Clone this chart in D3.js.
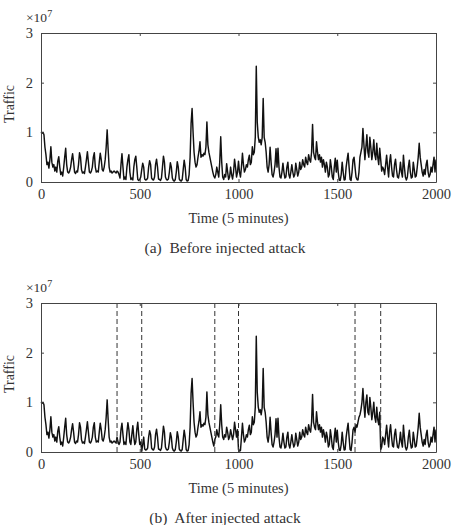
<!DOCTYPE html>
<html>
<head>
<meta charset="utf-8">
<script src="https://cdn.jsdelivr.net/npm/d3@7"></script>
<style>
  body { margin: 0; background: #fff; }
  text { font-family: "Liberation Serif", "Times New Roman", serif; fill: #333; }
</style>
</head>
<body>
<svg width="455" height="525"></svg>
<script>
// traffic in units of 1e7, one value every 5 time steps (t = 0 ... 2000)
const timeStep = 5;
const trafficBefore = [
  1.0,0.98,1.0,0.95,0.7,0.55,0.35,0.4,0.28,0.45,0.71,0.4,0.3,0.35,0.22,0.3,0.2,0.42,0.51,0.3,
  0.15,0.2,0.12,0.3,0.5,0.68,0.35,0.2,0.18,0.22,0.3,0.45,0.57,0.4,0.2,0.17,0.22,0.2,0.35,0.59,
  0.5,0.25,0.18,0.2,0.17,0.3,0.45,0.61,0.4,0.2,0.18,0.22,0.3,0.5,0.59,0.3,0.2,0.22,0.2,0.4,
  0.58,0.45,0.25,0.22,0.3,0.45,0.7,1.05,0.65,0.3,0.2,0.22,0.18,0.2,0.22,0.2,0.18,0.22,0.2,0.15,
  0.08,0.35,0.57,0.3,0.05,0.1,0.05,0.3,0.45,0.55,0.2,0.05,0.08,0.04,0.3,0.45,0.52,0.3,0.05,0.03,
  0.05,0.1,0.25,0.38,0.3,0.06,0.04,0.05,0.08,0.3,0.43,0.35,0.08,0.05,0.04,0.1,0.35,0.46,0.3,0.06,
  0.05,0.03,0.08,0.3,0.52,0.4,0.1,0.05,0.04,0.06,0.2,0.39,0.3,0.08,0.03,0.02,0.05,0.2,0.41,0.3,
  0.06,0.03,0.02,0.05,0.25,0.44,0.3,0.05,0.02,0.03,0.15,0.5,1.18,1.48,1.0,0.6,0.4,0.3,0.35,0.5,
  0.62,0.81,0.5,0.55,0.52,0.58,0.55,0.7,1.21,0.75,0.6,0.5,0.4,0.3,0.2,0.12,0.08,0.15,0.3,0.2,
  0.1,0.4,0.91,0.4,0.1,0.05,0.15,0.1,0.37,0.2,0.05,0.1,0.3,0.15,0.06,0.2,0.46,0.3,0.1,0.2,
  0.42,0.2,0.1,0.3,0.58,0.35,0.2,0.25,0.35,0.3,0.45,0.54,0.35,0.4,0.71,0.55,0.6,0.9,2.33,1.2,
  0.91,0.8,0.85,0.75,0.9,1.68,0.9,0.8,0.6,0.3,0.2,0.35,0.7,0.4,0.15,0.1,0.2,0.35,0.67,0.3,
  0.68,0.3,0.1,0.08,0.2,0.38,0.2,0.08,0.1,0.3,0.4,0.15,0.08,0.2,0.35,0.2,0.1,0.15,0.38,0.25,
  0.12,0.2,0.4,0.25,0.3,0.45,0.35,0.3,0.5,0.4,0.35,0.55,0.45,0.4,0.6,1.16,0.6,0.5,0.45,0.81,
  0.6,0.45,0.55,0.4,0.5,0.3,0.45,0.35,0.2,0.4,0.3,0.1,0.15,0.45,0.3,0.1,0.05,0.3,0.48,0.2,
  0.44,0.2,0.04,0.03,0.15,0.4,0.2,0.04,0.05,0.3,0.45,0.58,0.3,0.05,0.03,0.2,0.45,0.5,0.3,0.1,
  0.05,0.04,0.2,0.5,0.6,0.7,1.08,0.75,0.45,0.7,0.95,0.6,0.5,0.9,0.7,0.45,0.6,0.85,0.55,0.45,
  0.78,0.5,0.35,0.68,0.45,0.22,0.3,0.25,0.15,0.35,0.54,0.3,0.1,0.4,0.55,0.3,0.12,0.1,0.35,0.46,
  0.25,0.1,0.08,0.2,0.4,0.2,0.1,0.54,0.3,0.1,0.04,0.1,0.3,0.44,0.2,0.08,0.1,0.4,0.25,0.1,
  0.12,0.3,0.5,0.78,0.5,0.35,0.2,0.12,0.25,0.15,0.35,0.44,0.2,0.1,0.15,0.3,0.2,0.35,0.5,0.2,0.45
];

// injected segments for panel (b): start time and replaced values
const attackStarts = [385, 880, 1590];
const attackValues = [
  [0.3,0.2,0.15,0.2,0.45,0.58,0.35,0.15,0.2,0.15,0.4,0.59,0.45,0.2,0.15,0.35,0.53,0.3,0.15,0.2,0.45,0.6,0.35,0.15,0.2,0.02,0.15],
  [0.25,0.3,0.45,0.35,0.3,0.55,0.95,0.55,0.3,0.25,0.35,0.3,0.5,0.4,0.25,0.3,0.45,0.35,0.25,0.35,0.6,0.45,0.3,0.45,0.05,0.02,0.03],
  [0.4,0.55,0.5,0.6,0.7,0.75,0.85,1.0,1.28,0.95,0.7,1.0,1.15,0.8,0.75,1.1,0.9,0.65,0.8,1.0,0.7,0.6,0.9,0.65,0.55,0.8,0.05,0.1]
];
const attackBounds = [385, 510, 880, 1000, 1590, 1720];

const xTicks = [0, 500, 1000, 1500, 2000];
const yTicks = [0, 1, 2, 3];

const trafficAfter = trafficBefore.slice();
attackStarts.forEach((s, k) => {
  attackValues[k].forEach((v, j) => { trafficAfter[s / timeStep + j] = v; });
});

const svg = d3.select("svg");
const plot = { left: 41, right: 436, top: 33, bottom: 182 };

const x = d3.scaleLinear().domain([0, 2000]).range([plot.left, plot.right]);
const y = d3.scaleLinear().domain([0, 3]).range([plot.bottom, plot.top]);

const line = d3.line()
  .x((d, i) => x(i * timeStep))
  .y(d => y(d));

function drawPanel(offsetY, values, bounds, caption) {
  const g = svg.append("g").attr("transform", `translate(0,${offsetY})`);

  // series
  g.append("path")
    .datum(values)
    .attr("fill", "none")
    .attr("stroke", "#111")
    .attr("stroke-width", 1.45)
    .attr("stroke-linejoin", "round")
    .attr("d", line);

  // attack interval markers
  g.selectAll("line.mark")
    .data(bounds)
    .enter().append("line")
    .attr("class", "mark")
    .attr("x1", d => x(d)).attr("x2", d => x(d))
    .attr("y1", plot.top).attr("y2", plot.bottom)
    .attr("stroke", "#333")
    .attr("stroke-width", 1)
    .attr("stroke-dasharray", "5,3");

  // box axes, ticks pointing inward
  const styleAxis = sel => {
    sel.attr("font-family", null).attr("font-size", null);
    sel.selectAll("path, line").attr("stroke", "#444");
    sel.selectAll("text")
      .style("font-family", '"Liberation Serif", serif')
      .style("font-size", "14.5px")
      .attr("fill", "#333");
  };
  const fmt = d3.format("d");
  g.append("g").attr("transform", `translate(0,${plot.bottom})`)
    .call(d3.axisBottom(x).tickValues(xTicks).tickFormat(fmt).tickSizeInner(-3).tickSizeOuter(0).tickPadding(7))
    .call(styleAxis);
  g.append("g").attr("transform", `translate(0,${plot.top})`)
    .call(d3.axisTop(x).tickValues(xTicks).tickSizeInner(-3).tickSizeOuter(0).tickFormat(""))
    .call(styleAxis);
  g.append("g").attr("transform", `translate(${plot.left},0)`)
    .call(d3.axisLeft(y).tickValues(yTicks).tickFormat(fmt).tickSizeInner(-3).tickSizeOuter(0).tickPadding(8))
    .call(styleAxis);
  g.append("g").attr("transform", `translate(${plot.right},0)`)
    .call(d3.axisRight(y).tickValues(yTicks).tickSizeInner(-3).tickSizeOuter(0).tickFormat(""))
    .call(styleAxis);

  // exponent
  const ex = g.append("text").attr("x", 26).attr("y", 21.5).style("font-size", "13.5px");
  ex.append("tspan").text("×10");
  ex.append("tspan").attr("dy", -5).style("font-size", "10px").text("7");

  g.append("text")
    .attr("transform", "translate(13.5,104) rotate(-90)")
    .attr("text-anchor", "middle")
    .style("font-size", "14px")
    .text("Traffic");

  g.append("text")
    .attr("x", (plot.left + plot.right) / 2)
    .attr("y", 222.5)
    .attr("text-anchor", "middle")
    .style("font-size", "14.5px")
    .text("Time (5 minutes)");

  g.append("text")
    .attr("x", 225)
    .attr("y", 252.5)
    .attr("text-anchor", "middle")
    .style("font-size", "15.5px")
    .style("white-space", "pre")
    .attr("xml:space", "preserve")
    .text(caption);
}

drawPanel(0, trafficBefore, [], "(a)  Before injected attack");
drawPanel(270, trafficAfter, attackBounds, "(b)  After injected attack");
</script>
</body>
</html>
